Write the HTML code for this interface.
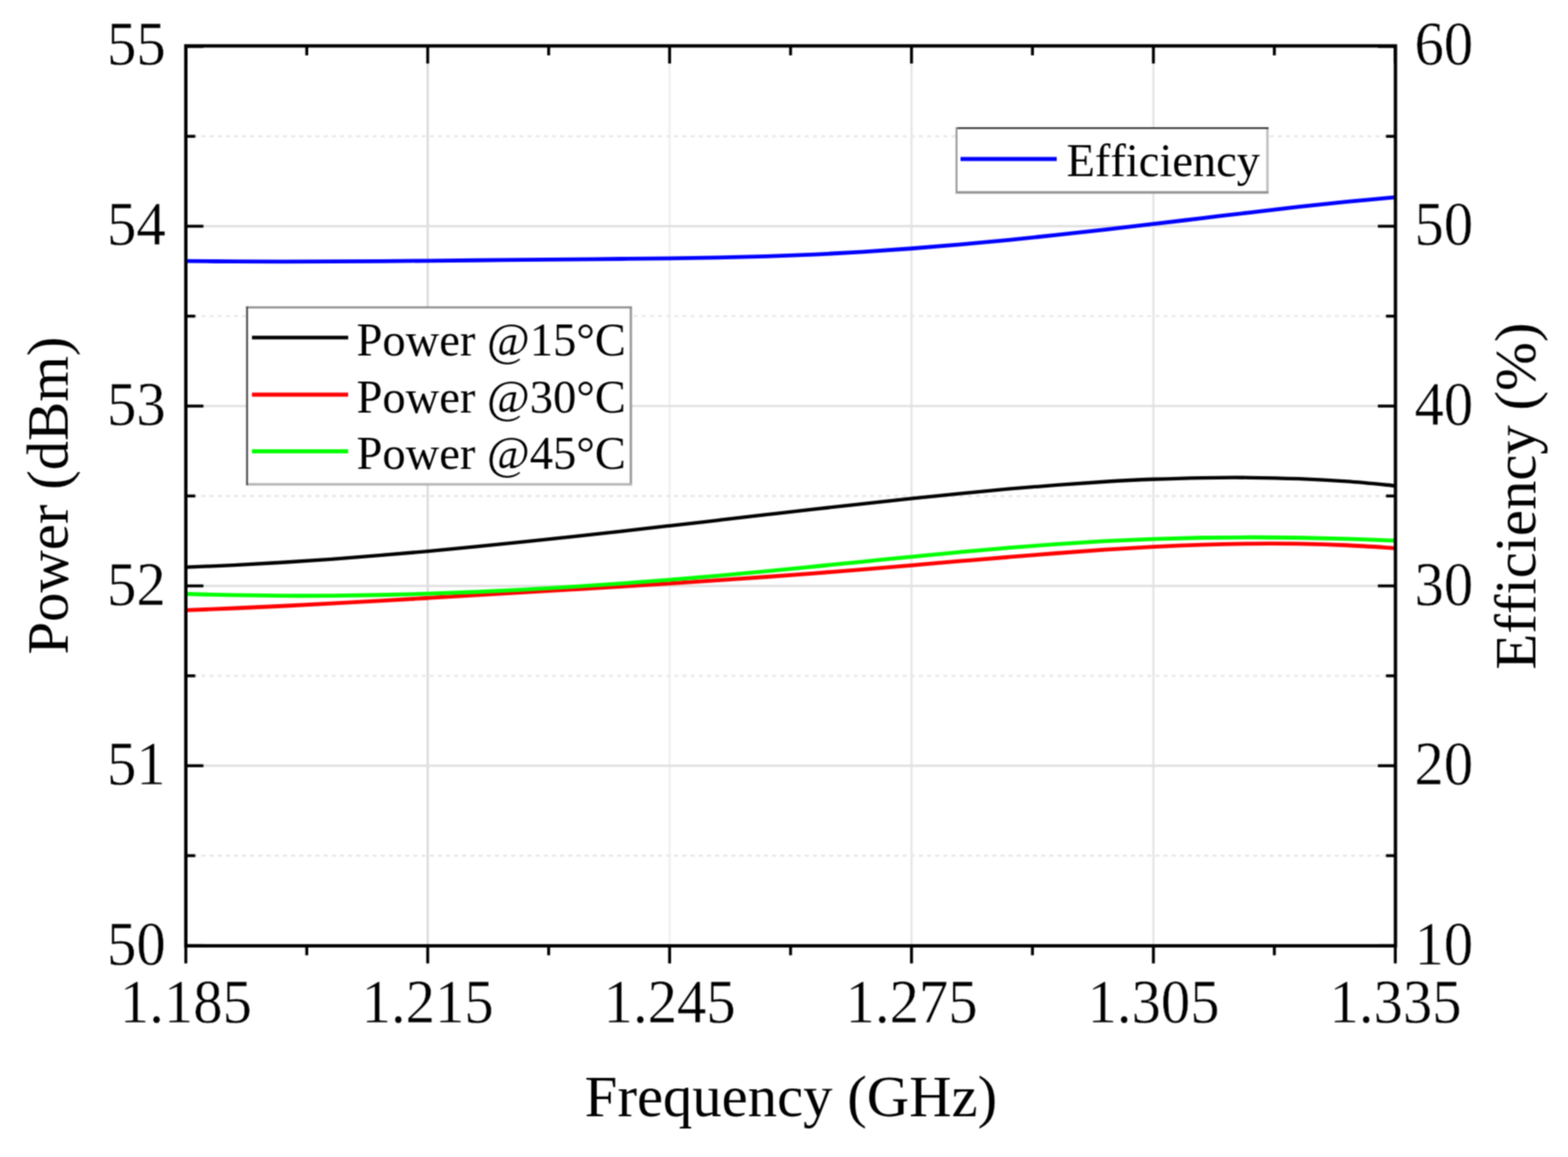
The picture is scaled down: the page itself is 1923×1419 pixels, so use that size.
<!DOCTYPE html>
<html lang="en"><head><meta charset="utf-8"><title>Power and Efficiency vs Frequency</title>
<style>html,body{margin:0;padding:0;background:#fff;}body{width:1923px;height:1419px;overflow:hidden;}svg{display:block;}text{font-family:"Liberation Serif",serif;fill:#000;font-variant-ligatures:none;font-kerning:none;}</style></head><body>
<svg width="1923" height="1419" viewBox="0 0 1923 1419">
<defs><filter id="bl" x="0" y="0" width="1923" height="1419" filterUnits="userSpaceOnUse" color-interpolation-filters="sRGB"><feConvolveMatrix order="3" kernelMatrix="1 2 1 2 4 2 1 2 1" edgeMode="duplicate" preserveAlpha="true"/></filter></defs>
<rect width="1923" height="1419" fill="#fff"/>
<g filter="url(#bl)">
<rect width="1923" height="1419" fill="#fff"/>
<g stroke-width="2.70" fill="none">
<line x1="524.56" y1="56.30" x2="524.56" y2="1160.00" stroke="#dbdbdb"/>
<line x1="821.22" y1="56.30" x2="821.22" y2="1160.00" stroke="#f0f0f0"/>
<line x1="1117.88" y1="56.30" x2="1117.88" y2="1160.00" stroke="#e5e5e5"/>
<line x1="1414.54" y1="56.30" x2="1414.54" y2="1160.00" stroke="#e5e5e5"/>
<line x1="227.90" y1="277.46" x2="1711.40" y2="277.46" stroke="#e0e0e0"/>
<line x1="227.90" y1="498.02" x2="1711.40" y2="498.02" stroke="#e0e0e0"/>
<line x1="227.90" y1="718.58" x2="1711.40" y2="718.58" stroke="#e0e0e0"/>
<line x1="227.90" y1="939.14" x2="1711.40" y2="939.14" stroke="#e0e0e0"/>
</g>
<g stroke="#e9e9e9" stroke-width="2.70" fill="none" stroke-dasharray="5 5" stroke-dashoffset="1.00">
<line x1="227.90" y1="167.18" x2="1711.40" y2="167.18"/>
<line x1="227.90" y1="387.74" x2="1711.40" y2="387.74"/>
<line x1="227.90" y1="608.30" x2="1711.40" y2="608.30"/>
<line x1="227.90" y1="828.86" x2="1711.40" y2="828.86"/>
<line x1="227.90" y1="1049.42" x2="1711.40" y2="1049.42"/>
</g>
<path d="M227.90,695.57 C237.79,695.15 267.46,694.02 287.24,693.05 C307.02,692.09 326.80,690.98 346.58,689.77 C366.36,688.56 386.14,687.22 405.92,685.79 C425.70,684.36 445.48,682.82 465.26,681.20 C485.04,679.57 504.82,677.85 524.60,676.06 C544.38,674.26 564.16,672.38 583.94,670.45 C603.72,668.51 623.50,666.50 643.28,664.45 C663.06,662.40 682.84,660.28 702.62,658.13 C722.40,655.99 742.18,653.79 761.96,651.58 C781.74,649.36 801.52,647.11 821.30,644.86 C841.08,642.60 860.86,640.32 880.64,638.05 C900.42,635.77 920.20,633.49 939.98,631.22 C959.76,628.96 979.54,626.69 999.32,624.46 C1019.10,622.23 1038.88,620.01 1058.66,617.84 C1078.44,615.67 1098.22,613.52 1118.00,611.43 C1137.78,609.35 1157.56,607.29 1177.34,605.33 C1197.12,603.38 1216.90,601.48 1236.68,599.72 C1256.46,597.96 1276.24,596.29 1296.02,594.79 C1315.80,593.29 1335.58,591.91 1355.36,590.74 C1375.14,589.56 1394.92,588.54 1414.70,587.75 C1434.48,586.97 1454.26,586.37 1474.04,586.04 C1493.82,585.72 1513.60,585.60 1533.38,585.79 C1553.16,585.99 1572.94,586.43 1592.72,587.21 C1612.50,587.99 1632.28,589.05 1652.06,590.48 C1671.84,591.91 1701.51,594.91 1711.40,595.80" fill="none" stroke="#000000" stroke-width="4.30"/>
<path d="M227.90,748.37 C237.79,747.98 267.46,746.86 287.24,746.01 C307.02,745.16 326.80,744.23 346.58,743.26 C366.36,742.29 386.14,741.25 405.92,740.19 C425.70,739.13 445.48,738.02 465.26,736.89 C485.04,735.77 504.82,734.61 524.60,733.45 C544.38,732.28 564.16,731.10 583.94,729.93 C603.72,728.75 623.50,727.58 643.28,726.41 C663.06,725.23 682.84,724.06 702.62,722.88 C722.40,721.69 742.18,720.50 761.96,719.28 C781.74,718.06 801.52,716.83 821.30,715.55 C841.08,714.28 860.86,712.99 880.64,711.65 C900.42,710.30 920.20,708.93 939.98,707.50 C959.76,706.06 979.54,704.59 999.32,703.05 C1019.10,701.51 1038.88,699.90 1058.66,698.28 C1078.44,696.65 1098.22,694.97 1118.00,693.29 C1137.78,691.62 1157.56,689.91 1177.34,688.23 C1197.12,686.56 1216.90,684.87 1236.68,683.25 C1256.46,681.62 1276.24,679.99 1296.02,678.49 C1315.80,676.98 1335.58,675.50 1355.36,674.19 C1375.14,672.89 1394.92,671.66 1414.70,670.65 C1434.48,669.64 1454.26,668.76 1474.04,668.13 C1493.82,667.49 1513.60,667.03 1533.38,666.83 C1553.16,666.64 1572.94,666.65 1592.72,666.97 C1612.50,667.28 1632.28,667.84 1652.06,668.73 C1671.84,669.62 1701.51,671.71 1711.40,672.31" fill="none" stroke="#ff0000" stroke-width="4.80"/>
<path d="M227.90,728.46 C237.79,728.71 267.46,729.60 287.24,729.97 C307.02,730.34 326.80,730.56 346.58,730.67 C366.36,730.77 386.14,730.74 405.92,730.58 C425.70,730.43 445.48,730.15 465.26,729.76 C485.04,729.36 504.82,728.84 524.60,728.22 C544.38,727.60 564.16,726.85 583.94,726.01 C603.72,725.17 623.50,724.21 643.28,723.16 C663.06,722.11 682.84,720.96 702.62,719.71 C722.40,718.47 742.18,717.12 761.96,715.70 C781.74,714.27 801.52,712.75 821.30,711.15 C841.08,709.55 860.86,707.86 880.64,706.11 C900.42,704.35 920.20,702.50 939.98,700.60 C959.76,698.71 979.54,696.73 999.32,694.76 C1019.10,692.79 1038.88,690.76 1058.66,688.77 C1078.44,686.79 1098.22,684.78 1118.00,682.84 C1137.78,680.91 1157.56,678.98 1177.34,677.17 C1197.12,675.35 1216.90,673.58 1236.68,671.95 C1256.46,670.32 1276.24,668.77 1296.02,667.39 C1315.80,666.02 1335.58,664.75 1355.36,663.69 C1375.14,662.64 1394.92,661.75 1414.70,661.05 C1434.48,660.35 1454.26,659.85 1474.04,659.51 C1493.82,659.17 1513.60,659.02 1533.38,659.02 C1553.16,659.01 1572.94,659.19 1592.72,659.50 C1612.50,659.82 1632.28,660.30 1652.06,660.91 C1671.84,661.52 1701.51,662.79 1711.40,663.17" fill="none" stroke="#00ff00" stroke-width="4.80"/>
<path d="M227.90,320.13 C237.79,320.21 267.46,320.54 287.24,320.65 C307.02,320.77 326.80,320.81 346.58,320.82 C366.36,320.83 386.14,320.77 405.92,320.70 C425.70,320.62 445.48,320.49 465.26,320.35 C485.04,320.21 504.82,320.03 524.60,319.84 C544.38,319.66 564.16,319.45 583.94,319.24 C603.72,319.04 623.50,318.82 643.28,318.62 C663.06,318.41 682.84,318.22 702.62,318.03 C722.40,317.84 742.18,317.70 761.96,317.50 C781.74,317.31 801.52,317.14 821.30,316.87 C841.08,316.60 860.86,316.32 880.64,315.91 C900.42,315.49 920.20,315.02 939.98,314.39 C959.76,313.76 979.54,313.02 999.32,312.10 C1019.10,311.18 1038.88,310.10 1058.66,308.88 C1078.44,307.65 1098.22,306.26 1118.00,304.76 C1137.78,303.26 1157.56,301.61 1177.34,299.87 C1197.12,298.13 1216.90,296.26 1236.68,294.31 C1256.46,292.37 1276.24,290.31 1296.02,288.20 C1315.80,286.09 1335.58,283.88 1355.36,281.64 C1375.14,279.39 1394.92,277.07 1414.70,274.74 C1434.48,272.40 1454.26,270.00 1474.04,267.63 C1493.82,265.27 1513.60,262.87 1533.38,260.55 C1553.16,258.24 1572.94,255.93 1592.72,253.74 C1612.50,251.56 1632.28,249.42 1652.06,247.45 C1671.84,245.48 1701.51,242.84 1711.40,241.92" fill="none" stroke="#0000ff" stroke-width="4.80"/>
<g stroke="#000" fill="none" stroke-linecap="butt">
<rect x="227.90" y="56.30" width="1483.50" height="1103.70" stroke-width="4.15"/>
<line x1="227.90" y1="1160.00" x2="227.90" y2="1181.58" stroke-width="3.60"/>
<line x1="227.90" y1="56.30" x2="227.90" y2="77.88" stroke-width="3.60"/>
<line x1="376.23" y1="1160.00" x2="376.23" y2="1171.58" stroke-width="3.60"/>
<line x1="376.23" y1="56.30" x2="376.23" y2="67.88" stroke-width="3.60"/>
<line x1="524.56" y1="1160.00" x2="524.56" y2="1181.58" stroke-width="3.60"/>
<line x1="524.56" y1="56.30" x2="524.56" y2="77.88" stroke-width="3.60"/>
<line x1="672.89" y1="1160.00" x2="672.89" y2="1171.58" stroke-width="3.60"/>
<line x1="672.89" y1="56.30" x2="672.89" y2="67.88" stroke-width="3.60"/>
<line x1="821.22" y1="1160.00" x2="821.22" y2="1181.58" stroke-width="3.60"/>
<line x1="821.22" y1="56.30" x2="821.22" y2="77.88" stroke-width="3.60"/>
<line x1="969.55" y1="1160.00" x2="969.55" y2="1171.58" stroke-width="3.60"/>
<line x1="969.55" y1="56.30" x2="969.55" y2="67.88" stroke-width="3.60"/>
<line x1="1117.88" y1="1160.00" x2="1117.88" y2="1181.58" stroke-width="3.60"/>
<line x1="1117.88" y1="56.30" x2="1117.88" y2="77.88" stroke-width="3.60"/>
<line x1="1266.21" y1="1160.00" x2="1266.21" y2="1171.58" stroke-width="3.60"/>
<line x1="1266.21" y1="56.30" x2="1266.21" y2="67.88" stroke-width="3.60"/>
<line x1="1414.54" y1="1160.00" x2="1414.54" y2="1181.58" stroke-width="3.60"/>
<line x1="1414.54" y1="56.30" x2="1414.54" y2="77.88" stroke-width="3.60"/>
<line x1="1562.87" y1="1160.00" x2="1562.87" y2="1171.58" stroke-width="3.60"/>
<line x1="1562.87" y1="56.30" x2="1562.87" y2="67.88" stroke-width="3.60"/>
<line x1="1711.20" y1="1160.00" x2="1711.20" y2="1181.58" stroke-width="3.60"/>
<line x1="1711.20" y1="56.30" x2="1711.20" y2="77.88" stroke-width="3.60"/>
<line x1="227.90" y1="56.90" x2="249.47" y2="56.90" stroke-width="3.60"/>
<line x1="1711.40" y1="56.90" x2="1689.83" y2="56.90" stroke-width="3.60"/>
<line x1="227.90" y1="167.18" x2="239.47" y2="167.18" stroke-width="3.60"/>
<line x1="1711.40" y1="167.18" x2="1699.83" y2="167.18" stroke-width="3.60"/>
<line x1="227.90" y1="277.46" x2="249.47" y2="277.46" stroke-width="3.60"/>
<line x1="1711.40" y1="277.46" x2="1689.83" y2="277.46" stroke-width="3.60"/>
<line x1="227.90" y1="387.74" x2="239.47" y2="387.74" stroke-width="3.60"/>
<line x1="1711.40" y1="387.74" x2="1699.83" y2="387.74" stroke-width="3.60"/>
<line x1="227.90" y1="498.02" x2="249.47" y2="498.02" stroke-width="3.60"/>
<line x1="1711.40" y1="498.02" x2="1689.83" y2="498.02" stroke-width="3.60"/>
<line x1="227.90" y1="608.30" x2="239.47" y2="608.30" stroke-width="3.60"/>
<line x1="1711.40" y1="608.30" x2="1699.83" y2="608.30" stroke-width="3.60"/>
<line x1="227.90" y1="718.58" x2="249.47" y2="718.58" stroke-width="3.60"/>
<line x1="1711.40" y1="718.58" x2="1689.83" y2="718.58" stroke-width="3.60"/>
<line x1="227.90" y1="828.86" x2="239.47" y2="828.86" stroke-width="3.60"/>
<line x1="1711.40" y1="828.86" x2="1699.83" y2="828.86" stroke-width="3.60"/>
<line x1="227.90" y1="939.14" x2="249.47" y2="939.14" stroke-width="3.60"/>
<line x1="1711.40" y1="939.14" x2="1689.83" y2="939.14" stroke-width="3.60"/>
<line x1="227.90" y1="1049.42" x2="239.47" y2="1049.42" stroke-width="3.60"/>
<line x1="1711.40" y1="1049.42" x2="1699.83" y2="1049.42" stroke-width="3.60"/>
<line x1="227.90" y1="1159.70" x2="249.47" y2="1159.70" stroke-width="3.60"/>
<line x1="1711.40" y1="1159.70" x2="1689.83" y2="1159.70" stroke-width="3.60"/>
</g>
<text font-size="72.00" text-anchor="end" transform="translate(203.30,79.30) scale(1.0000,1.0450)" stroke="#fff" stroke-width="0.45" stroke-linejoin="round">55</text>
<text font-size="72.00" text-anchor="end" transform="translate(203.30,300.04) scale(1.0000,1.0450)" stroke="#fff" stroke-width="0.45" stroke-linejoin="round">54</text>
<text font-size="72.00" text-anchor="end" transform="translate(203.30,520.78) scale(1.0000,1.0450)" stroke="#fff" stroke-width="0.45" stroke-linejoin="round">53</text>
<text font-size="72.00" text-anchor="end" transform="translate(203.30,741.52) scale(1.0000,1.0450)" stroke="#fff" stroke-width="0.45" stroke-linejoin="round">52</text>
<text font-size="72.00" text-anchor="end" transform="translate(203.30,962.26) scale(1.0000,1.0450)" stroke="#fff" stroke-width="0.45" stroke-linejoin="round">51</text>
<text font-size="72.00" text-anchor="end" transform="translate(203.30,1183.00) scale(1.0000,1.0450)" stroke="#fff" stroke-width="0.45" stroke-linejoin="round">50</text>
<text font-size="72.00" text-anchor="start" transform="translate(1734.80,79.30) scale(1.0000,1.0450)" stroke="#fff" stroke-width="0.45" stroke-linejoin="round">60</text>
<text font-size="72.00" text-anchor="start" transform="translate(1734.80,300.04) scale(1.0000,1.0450)" stroke="#fff" stroke-width="0.45" stroke-linejoin="round">50</text>
<text font-size="72.00" text-anchor="start" transform="translate(1734.80,520.78) scale(1.0000,1.0450)" stroke="#fff" stroke-width="0.45" stroke-linejoin="round">40</text>
<text font-size="72.00" text-anchor="start" transform="translate(1734.80,741.52) scale(1.0000,1.0450)" stroke="#fff" stroke-width="0.45" stroke-linejoin="round">30</text>
<text font-size="72.00" text-anchor="start" transform="translate(1734.80,962.26) scale(1.0000,1.0450)" stroke="#fff" stroke-width="0.45" stroke-linejoin="round">20</text>
<text font-size="72.00" text-anchor="start" transform="translate(1734.80,1183.00) scale(1.0000,1.0450)" stroke="#fff" stroke-width="0.45" stroke-linejoin="round">10</text>
<text font-size="72.00" text-anchor="middle" transform="translate(227.90,1253.70) scale(1.0000,1.0450)" stroke="#fff" stroke-width="0.45" stroke-linejoin="round">1.185</text>
<text font-size="72.00" text-anchor="middle" transform="translate(524.60,1253.70) scale(1.0000,1.0450)" stroke="#fff" stroke-width="0.45" stroke-linejoin="round">1.215</text>
<text font-size="72.00" text-anchor="middle" transform="translate(821.30,1253.70) scale(1.0000,1.0450)" stroke="#fff" stroke-width="0.45" stroke-linejoin="round">1.245</text>
<text font-size="72.00" text-anchor="middle" transform="translate(1118.00,1253.70) scale(1.0000,1.0450)" stroke="#fff" stroke-width="0.45" stroke-linejoin="round">1.275</text>
<text font-size="72.00" text-anchor="middle" transform="translate(1414.70,1253.70) scale(1.0000,1.0450)" stroke="#fff" stroke-width="0.45" stroke-linejoin="round">1.305</text>
<text font-size="72.00" text-anchor="middle" transform="translate(1711.40,1253.70) scale(1.0000,1.0450)" stroke="#fff" stroke-width="0.45" stroke-linejoin="round">1.335</text>
<text font-size="72.00" text-anchor="middle" transform="translate(970.00,1369.20) scale(1.0000,1.0100)">Frequency (GHz)</text>
<text font-size="72.00" text-anchor="middle" transform="translate(83.30,607.80) rotate(-90) scale(1.0000,1.0100)">Power (dBm)</text>
<text font-size="72.00" text-anchor="middle" transform="translate(1882.50,608.40) rotate(-90) scale(1.0000,1.0100)">Efficiency (%)</text>
<rect x="303.00" y="377.00" width="470.70" height="216.90" fill="#fff"/>
<line x1="773.70" y1="375.80" x2="773.70" y2="595.10" stroke="#9c9c9c" stroke-width="3.00"/>
<line x1="301.80" y1="593.90" x2="774.90" y2="593.90" stroke="#b4b4b4" stroke-width="3.00"/>
<line x1="301.80" y1="377.00" x2="774.90" y2="377.00" stroke="#8c8c8c" stroke-width="2.40"/>
<line x1="303.00" y1="375.80" x2="303.00" y2="595.10" stroke="#505050" stroke-width="2.40"/>
<line x1="309.00" y1="414.00" x2="427.00" y2="414.00" stroke="#000000" stroke-width="4.30"/>
<text font-size="57.00" text-anchor="start" transform="translate(437.30,435.60) scale(1.0000,0.9850)">Power @15°C</text>
<line x1="309.00" y1="484.00" x2="427.00" y2="484.00" stroke="#ff0000" stroke-width="4.80"/>
<text font-size="57.00" text-anchor="start" transform="translate(437.30,505.60) scale(1.0000,0.9850)">Power @30°C</text>
<line x1="309.00" y1="553.50" x2="427.00" y2="553.50" stroke="#00ff00" stroke-width="4.80"/>
<text font-size="57.00" text-anchor="start" transform="translate(437.30,575.10) scale(1.0000,0.9850)">Power @45°C</text>
<rect x="1173.10" y="157.10" width="381.30" height="78.80" fill="#fff"/>
<line x1="1554.40" y1="155.90" x2="1554.40" y2="237.10" stroke="#c0c0c0" stroke-width="3.00"/>
<line x1="1171.90" y1="235.90" x2="1555.60" y2="235.90" stroke="#909090" stroke-width="3.00"/>
<line x1="1171.90" y1="157.10" x2="1555.60" y2="157.10" stroke="#3c3c3c" stroke-width="2.40"/>
<line x1="1173.10" y1="155.90" x2="1173.10" y2="237.10" stroke="#9a9a9a" stroke-width="2.40"/>
<line x1="1178.00" y1="195.00" x2="1296.00" y2="195.00" stroke="#0000ff" stroke-width="4.80"/>
<text font-size="57.00" text-anchor="start" transform="translate(1308.00,216.00) scale(1.0000,0.9850)">Efficiency</text>
</g>
</svg></body></html>
